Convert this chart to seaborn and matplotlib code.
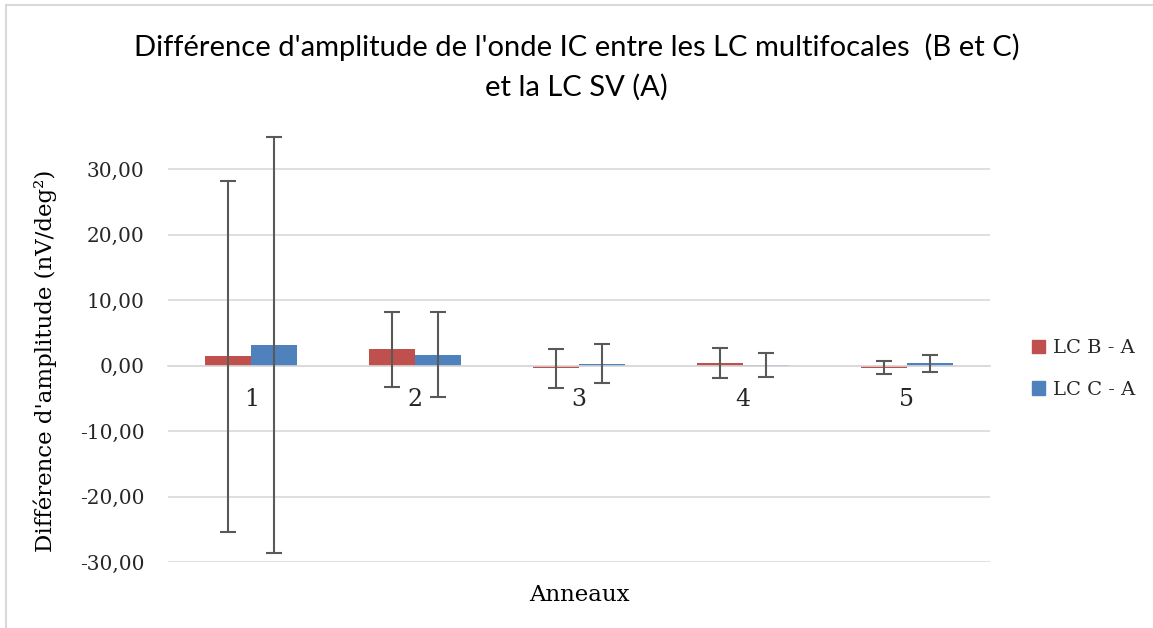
import matplotlib
matplotlib.use("Agg")
import matplotlib.pyplot as plt
import seaborn as sns
import pandas as pd
from matplotlib.patches import Rectangle

# Data
rings = ["1", "2", "3", "4", "5"]
series_names = ["LC B - A", "LC C - A"]
b_minus_a = [1.4, 2.5, -0.4, 0.4, -0.3]
b_err = [26.8, 5.7, 2.95, 2.35, 1.0]
c_minus_a = [3.1, 1.7, 0.3, 0.15, 0.4]
c_err = [31.8, 6.55, 2.98, 1.85, 1.3]
y_ticks = [-30, -20, -10, 0, 10, 20, 30]

colors = ["#C0504D", "#4F81BD"]
serif = "DejaVu Serif"

df = pd.DataFrame({
    "Anneau": rings * 2,
    "Serie": [series_names[0]] * 5 + [series_names[1]] * 5,
    "Valeur": b_minus_a + c_minus_a,
})

sns.set_theme(style="white")
plt.rcParams["font.family"] = ["DejaVu Sans"]

fig = plt.figure(figsize=(11.53, 6.28), dpi=100)
ax = fig.add_axes([168 / 1153, (628 - 562) / 628, (990 - 168) / 1153, (562 - 130) / 628])

sns.barplot(data=df, x="Anneau", y="Valeur", hue="Serie", order=rings,
            hue_order=series_names, palette=colors, saturation=1,
            width=0.56, linewidth=0, errorbar=None, ax=ax)

errs = [b_err, c_err]
for cont, err in zip(ax.containers, errs):
    xs = [p.get_x() + p.get_width() / 2 for p in cont.patches]
    ys = [p.get_y() + p.get_height() for p in cont.patches]
    ax.errorbar(xs, ys, yerr=err, fmt="none", ecolor="#595959",
                elinewidth=1.5, capsize=5.5, capthick=1.5, zorder=5)

ax.set_ylim(-30, 36)
ax.set_yticks(y_ticks)
ax.set_yticklabels([f"{v:.2f}".replace(".", ",") for v in y_ticks],
                   fontfamily=serif, fontsize=14.5)
ax.yaxis.grid(True, color="#D9D9D9", linewidth=1.2)
ax.set_axisbelow(True)
for s in ["left", "right", "top"]:
    ax.spines[s].set_visible(False)
ax.spines["bottom"].set_position(("data", 0))
ax.spines["bottom"].set_color("#D9D9D9")
ax.spines["bottom"].set_linewidth(1.2)
ax.tick_params(axis="both", length=0)
ax.tick_params(axis="y", pad=17)
ax.tick_params(axis="x", pad=16)
for lab in ax.get_xticklabels():
    lab.set_fontfamily(serif)
    lab.set_fontsize(17)

ax.set_xlabel("Anneaux", fontfamily=serif, fontsize=16.5, color="#000000")
ax.xaxis.set_label_coords(0.5, -(584 - 562) / 432)
ax.set_ylabel("Différence d'amplitude (nV/deg²)", fontfamily=serif,
              fontsize=16.5, color="#000000")
ax.yaxis.set_label_coords(-(168 - 57) / 822, 0.5 - (361 - 346) / 432)

ax.get_legend().remove()
handles = [plt.Rectangle((0, 0), 1, 1, color=c) for c in colors]
fig.legend(handles, series_names, loc="center left",
           bbox_to_anchor=(1014 / 1153, 1 - 369 / 628), frameon=False,
           prop={"family": serif, "size": 14}, handlelength=0.7,
           handleheight=0.7, handletextpad=0.4, labelspacing=1.2)

fig.text(0.5, 1 - 47 / 628,
         "Différence d'amplitude de l'onde IC entre les LC multifocales  (B et C)",
         ha="center", va="center", fontfamily="Lato", fontsize=21, color="#000000")
fig.text(0.5, 1 - 87 / 628, "et la LC SV (A)",
         ha="center", va="center", fontfamily="Lato", fontsize=21, color="#000000")

fig.patches.append(Rectangle((5.5 / 1153, -0.1), 1.2, 1.1 - 5.5 / 628,
                             transform=fig.transFigure, fill=False,
                             edgecolor="#D9D9D9", linewidth=1.5))

fig.savefig("out.png", dpi=100)
